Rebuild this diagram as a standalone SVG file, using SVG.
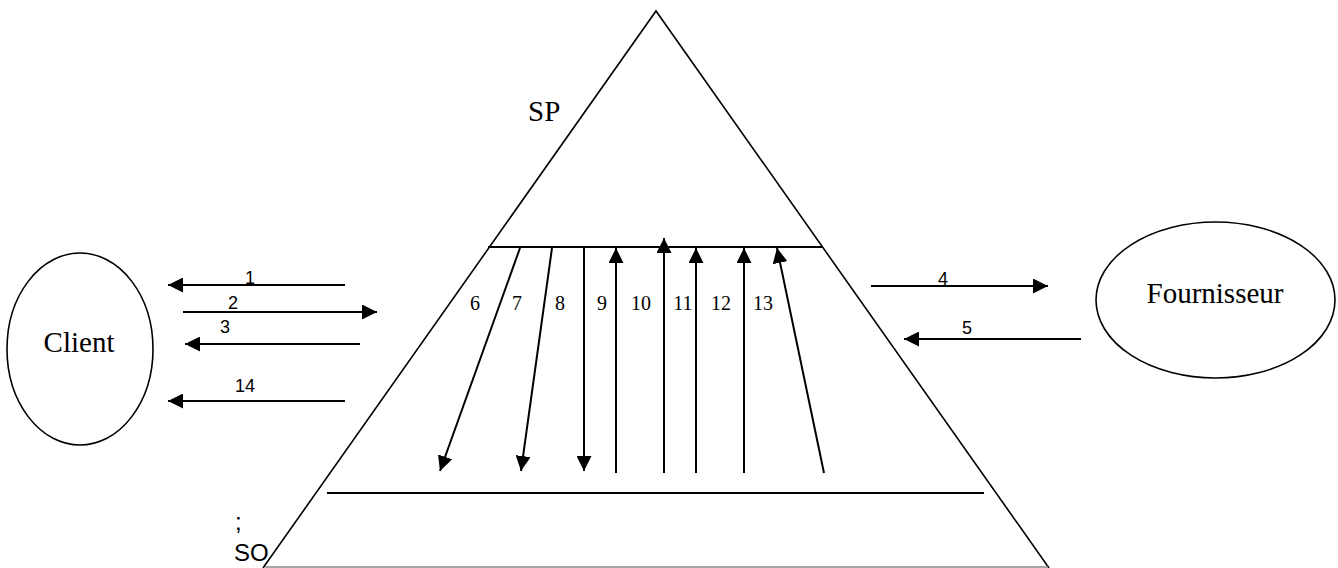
<svg xmlns="http://www.w3.org/2000/svg" width="1338" height="568" viewBox="0 0 1338 568">
<style>
.ln{stroke:#000;stroke-width:1.6;fill:none}
.ar{stroke:#000;stroke-width:2;fill:none;marker-end:url(#ah)}
.ser{font-family:"Liberation Serif","Times New Roman",serif;fill:#000}
.san{font-family:"Liberation Sans",Arial,sans-serif;fill:#000}
.node{fill:#fff;stroke:#000;stroke-width:1.6}
</style>
<defs>
<marker id="ah" markerUnits="userSpaceOnUse" markerWidth="16" markerHeight="15" refX="15" refY="7.5" orient="auto">
<path d="M0,0 L15,7.5 L0,15 z" fill="#000"/>
</marker>
</defs>
<rect width="1338" height="568" fill="#fff"/>
<g id="pyramid">
<path class="ln" d="M263,568 L656,11 L1049,568"/>
<line x1="488" y1="247" x2="823" y2="247" stroke="#000" stroke-width="2"/>
<line x1="327" y1="493" x2="984" y2="493" stroke="#000" stroke-width="2.2"/>
<line x1="265" y1="567" x2="1048" y2="567" stroke="#888" stroke-width="1.5"/>
<text class="ser" x="528" y="121" font-size="29">SP</text>
<text class="san" x="235" y="530" font-size="24">;</text>
<text class="san" x="234" y="561" font-size="24">SO</text>
</g>
<g id="client">
<ellipse class="node" cx="80" cy="349" rx="73" ry="96"/>
<text class="ser" x="79" y="352" font-size="29" text-anchor="middle">Client</text>
</g>
<g id="fournisseur">
<ellipse class="node" cx="1215.5" cy="300" rx="119.5" ry="78"/>
<text class="ser" x="1215" y="303" font-size="29" text-anchor="middle">Fournisseur</text>
</g>
<g id="connectors">
<line class="ar" x1="345" y1="285" x2="168" y2="285"/>
<line class="ar" x1="183" y1="312" x2="377" y2="312"/>
<line class="ar" x1="360" y1="344" x2="185" y2="344"/>
<line class="ar" x1="345" y1="401" x2="168" y2="401"/>
<line class="ar" x1="871" y1="286" x2="1048" y2="286"/>
<line class="ar" x1="1081" y1="339" x2="904" y2="339"/>
<line class="ar" x1="520" y1="248" x2="440" y2="471"/>
<line class="ar" x1="552" y1="248" x2="521" y2="471"/>
<line class="ar" x1="584" y1="248" x2="584" y2="471"/>
<line class="ar" x1="616" y1="473" x2="616" y2="248"/>
<line class="ar" x1="664" y1="473" x2="664" y2="238"/>
<line class="ar" x1="696" y1="473" x2="696" y2="248"/>
<line class="ar" x1="744" y1="473" x2="744" y2="248"/>
<line class="ar" x1="824" y1="473" x2="777" y2="248"/>
</g>
<g id="labels" text-anchor="middle">
<text class="san" x="250" y="284" font-size="18">1</text>
<text class="san" x="233" y="309" font-size="18">2</text>
<text class="san" x="225" y="333" font-size="18">3</text>
<text class="san" x="245" y="392" font-size="18">14</text>
<text class="san" x="943" y="285" font-size="18">4</text>
<text class="san" x="967" y="334" font-size="18">5</text>
<text class="ser" x="475" y="310" font-size="20">6</text>
<text class="ser" x="517" y="310" font-size="20">7</text>
<text class="ser" x="560" y="310" font-size="20">8</text>
<text class="ser" x="602" y="310" font-size="20">9</text>
<text class="ser" x="641" y="310" font-size="20">10</text>
<text class="ser" x="683" y="310" font-size="20">11</text>
<text class="ser" x="721" y="310" font-size="20">12</text>
<text class="ser" x="763" y="310" font-size="20">13</text>
</g>
</svg>
